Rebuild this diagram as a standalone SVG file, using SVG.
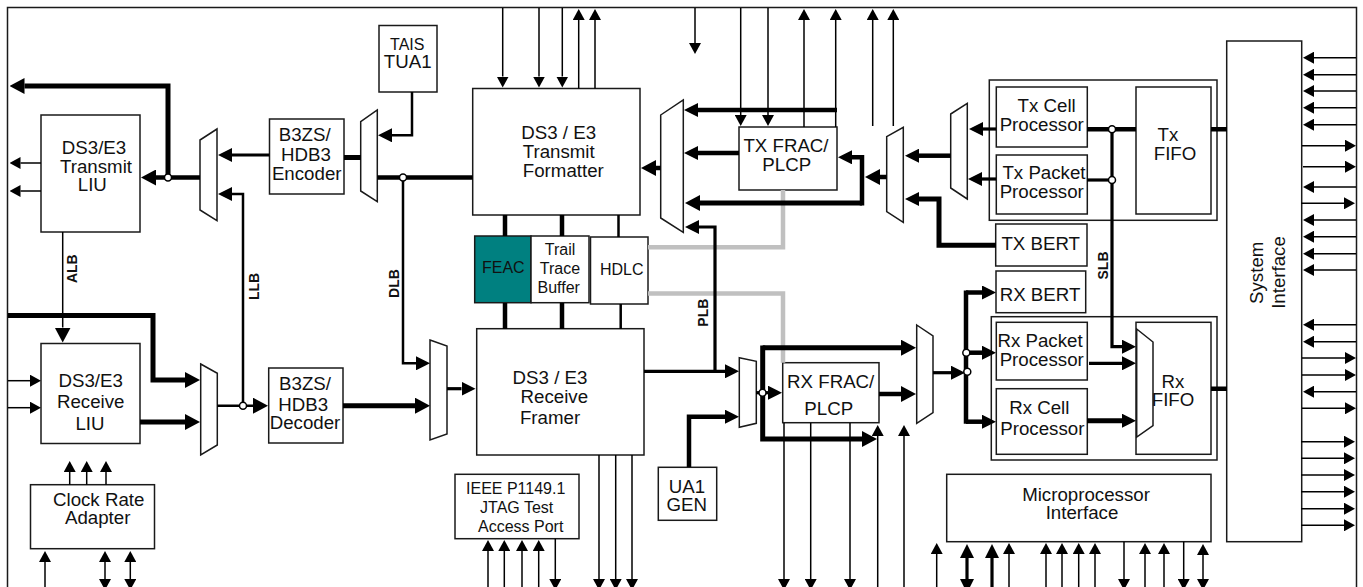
<svg xmlns="http://www.w3.org/2000/svg" width="1363" height="587" viewBox="0 0 1363 587">
<style>
text{font-family:"Liberation Sans",Arial,sans-serif;font-size:18.7px;fill:#111;text-anchor:middle}
.sm{font-size:16px}
.lb{font-size:14px;font-weight:bold}
.b{fill:#fff;stroke:#1a1a1a;stroke-width:1.5}
.n{fill:none;stroke:#1a1a1a;stroke-width:1.5}
#connectors path{fill:none;stroke:#000}
.w1{stroke-width:1.5}.w2{stroke-width:2.5}.w3{stroke-width:3.2}.w4{stroke-width:4.5}.w5{stroke-width:5}
#connectors path.g{stroke:#c0c0c0;stroke-width:4.5}
.s{marker-end:url(#hs)}.m{marker-end:url(#hm)}.l{marker-end:url(#hl)}
.ds{marker-start:url(#hs);marker-end:url(#hs)}.dm{marker-start:url(#hm);marker-end:url(#hm)}
#connectors circle{fill:#fff;stroke:#000;stroke-width:1.5}
</style>
<defs>
<marker id="hs" markerUnits="userSpaceOnUse" markerWidth="11" markerHeight="12" refX="0" refY="6" orient="auto-start-reverse"><path d="M0 0L11 6L0 12z"/></marker>
<marker id="hm" markerUnits="userSpaceOnUse" markerWidth="14" markerHeight="14" refX="0" refY="7" orient="auto-start-reverse"><path d="M0 0L14 7L0 14z"/></marker>
<marker id="hl" markerUnits="userSpaceOnUse" markerWidth="15" markerHeight="16" refX="0" refY="8" orient="auto-start-reverse"><path d="M0 0L15 8L0 16z"/></marker>
</defs>
<path id="frame" class="n" d="M7.5 587V7.5H1356.5V587"/>
<g id="tx-liu"><rect class="b" x="41" y="115" width="99" height="117"/><text x="94" y="154">DS3/E3</text><text x="96" y="172.7">Transmit</text><text x="92.3" y="191.3">LIU</text></g>
<g id="rx-liu"><rect class="b" x="41" y="343.5" width="99" height="100"/><text x="90.7" y="386.7">DS3/E3</text><text x="90.7" y="407.7">Receive</text><text x="90" y="430">LIU</text></g>
<g id="clock-rate-adapter"><rect class="b" x="30.5" y="484.7" width="124" height="64"/><text x="98.7" y="506">Clock Rate</text><text x="97.7" y="524">Adapter</text></g>
<g id="encoder"><rect class="b" x="269.5" y="119" width="74.5" height="75"/><text x="304.7" y="141.3">B3ZS/</text><text x="306" y="161.3">HDB3</text><text x="306.7" y="180">Encoder</text></g>
<g id="decoder"><rect class="b" x="268.7" y="368" width="74.3" height="75"/><text x="305" y="390">B3ZS/</text><text x="303.3" y="410.7">HDB3</text><text x="305" y="428.7">Decoder</text></g>
<g id="tais"><rect class="b" x="379" y="25.5" width="58" height="66.5"/><text class="sm" x="407.3" y="50">TAIS</text><text x="407.7" y="68.3">TUA1</text></g>
<g id="transmit-formatter"><rect class="b" x="472.7" y="88.5" width="167.3" height="126.5"/><text x="558.7" y="138.7">DS3 / E3</text><text x="558.7" y="158">Transmit</text><text x="563.3" y="177.3">Formatter</text></g>
<g id="feac"><rect x="474.7" y="236" width="56.3" height="66.7" fill="#008080" stroke="#1a1a1a" stroke-width="1.5"/><text class="sm" x="503.3" y="273.3">FEAC</text></g>
<g id="trail-trace"><rect class="b" x="531" y="236" width="58" height="66.7"/><text class="sm" x="560" y="255.3">Trail</text><text class="sm" x="560" y="274">Trace</text><text class="sm" x="558.7" y="293.3">Buffer</text></g>
<g id="hdlc"><rect class="b" x="590.5" y="237" width="57.5" height="67"/><text class="sm" x="621.7" y="275">HDLC</text></g>
<g id="receive-framer"><rect class="b" x="476.7" y="328.7" width="167.3" height="126.3"/><text x="550" y="384">DS3 / E3</text><text x="554.3" y="403.3">Receive</text><text x="550" y="424">Framer</text></g>
<g id="jtag"><rect class="b" x="455" y="474.3" width="124" height="64.4"/><text class="sm" x="515.7" y="494">IEEE P1149.1</text><text class="sm" x="516.7" y="513.3">JTAG Test</text><text class="sm" x="520.7" y="532.3">Access Port</text></g>
<g id="ua1-gen"><rect class="b" x="658.3" y="467.3" width="58.4" height="53"/><text x="687" y="493.3">UA1</text><text x="686.7" y="510.7">GEN</text></g>
<g id="tx-frac"><rect class="b" x="739" y="127" width="98" height="63"/><text x="786" y="151.7">TX FRAC/</text><text x="786.7" y="170.7">PLCP</text></g>
<g id="rx-frac"><rect class="b" x="782.7" y="362.7" width="96.3" height="60"/><text x="830.7" y="388.3">RX FRAC/</text><text x="828.7" y="415">PLCP</text></g>
<g id="tx-group"><rect class="b" x="989.3" y="80" width="227.7" height="140.3"/></g>
<g id="tx-cell"><rect class="b" x="996.3" y="87" width="91" height="60"/><text x="1046.7" y="111.7">Tx Cell</text><text x="1041.7" y="130.7">Processor</text></g>
<g id="tx-packet"><rect class="b" x="996.3" y="155" width="91" height="59"/><text x="1044" y="179.3">Tx Packet</text><text x="1041.7" y="198.3">Processor</text></g>
<g id="tx-fifo"><rect class="b" x="1136" y="87" width="75" height="127"/><text x="1168" y="141">Tx</text><text x="1175" y="160">FIFO</text></g>
<g id="tx-bert"><rect class="b" x="995.7" y="224" width="91.3" height="42"/><text x="1040.7" y="250">TX BERT</text></g>
<g id="rx-bert"><rect class="b" x="996" y="271" width="89.7" height="41.7"/><text x="1040" y="300.5">RX BERT</text></g>
<g id="rx-group"><rect class="b" x="991.3" y="316.7" width="225.7" height="143.3"/></g>
<g id="rx-packet"><rect class="b" x="996.3" y="322.3" width="91" height="57.7"/><text x="1040" y="347.3">Rx Packet</text><text x="1041.7" y="366">Processor</text></g>
<g id="rx-cell"><rect class="b" x="996.3" y="388.7" width="91" height="65.6"/><text x="1039.3" y="414">Rx Cell</text><text x="1042.3" y="435">Processor</text></g>
<g id="rx-fifo"><rect class="b" x="1136" y="322.3" width="75" height="132"/><path class="b" d="M1136.7 329L1153 342V425.7L1136.7 437z"/><text x="1173" y="387.7">Rx</text><text x="1173" y="405.7">FIFO</text></g>
<g id="system-interface"><rect class="b" x="1226.7" y="41" width="75" height="500.7"/><text transform="translate(1262.7 272.8) rotate(-90)">System</text><text transform="translate(1285 272.5) rotate(-90)">Interface</text></g>
<g id="microprocessor"><rect class="b" x="946.7" y="474.3" width="264.3" height="67.4"/><text x="1086" y="500.7">Microprocessor</text><text x="1082" y="519.3">Interface</text></g>
<g id="mux1"><path class="b" d="M200 140L217 129V220.7L200 210z"/></g>
<g id="mux2"><path class="b" d="M360.7 121.7L377.3 110V201.7L360.7 191z"/></g>
<g id="mux3"><path class="b" d="M200.7 364L217.3 373.3V445L200.7 455z"/></g>
<g id="mux4"><path class="b" d="M430 340L447 346V434L430 440z"/></g>
<g id="mux5"><path class="b" d="M660.7 115L683.3 100V232.3L660.7 218z"/></g>
<g id="mux6"><path class="b" d="M886.7 136.7L903.3 127.3V222.3L886.7 211.7z"/></g>
<g id="mux7"><path class="b" d="M950.7 114L967.3 103.3V199L950.7 188z"/></g>
<g id="mux8"><path class="b" d="M739.3 357.7L756.3 361.3V423.3L739.3 427.3z"/></g>
<g id="mux9"><path class="b" d="M916.7 325L933 336V412.7L916.7 423.3z"/></g>
<g id="connectors">
<path class="g" d="M648 247.3H783V190"/>
<path class="g" d="M648 293.5H783V362.7"/>
<path class="w5 l" d="M168 177.5V86H24.5"/>
<path class="w4 l" d="M200 177.5H156"/>
<path class="w1 s" d="M41 163H20.5"/>
<path class="w1 s" d="M41 191H20.5"/>
<path class="w3 m" d="M269.5 155H232"/>
<path class="w2 m" d="M243 405.7V194H232"/>
<path class="w5" d="M344 157.5H361"/>
<path class="w2 m" d="M412 92V135.3H392"/>
<path class="w4" d="M377.3 177.5H472.7"/>
<path class="w2 m" d="M403 177.5V363.3H416"/>
<path class="w1 l" d="M62.7 232V327.5"/>
<path class="w5 l" d="M8 315.5H153V380H185"/>
<path class="w1 s" d="M8 380.7H30"/>
<path class="w1 s" d="M8 407.7H30"/>
<path class="w5 l" d="M140 422H185"/>
<path class="w2 l" d="M217.3 405.7H253"/>
<path class="w5 l" d="M343 405.7H415"/>
<path class="w3 m" d="M447 388.7H461.5"/>
<path class="w1 s" d="M69.7 484.7V472"/><path class="w1 s" d="M86.7 484.7V472"/><path class="w1 s" d="M106 484.7V472"/>
<path class="w1 s" d="M45 587V562"/>
<path class="w1 ds" d="M105 562V579"/>
<path class="w1 ds" d="M130.3 562V579"/>
<path class="w1 s" d="M502.7 8V76.5"/><path class="w1 s" d="M539 8V76.5"/><path class="w1 s" d="M562.3 8V76.5"/>
<path class="w1 s" d="M578.7 88.5V20"/><path class="w1 s" d="M595 88.5V20"/>
<path class="w1 s" d="M695 8V43"/>
<path class="w1 s" d="M740.7 8V115"/><path class="w1 s" d="M768 8V115"/>
<path class="w1 s" d="M804 127V20"/><path class="w1 s" d="M835.7 127V20"/>
<path class="w1 s" d="M872.7 126V20"/><path class="w1 s" d="M893.3 126V20"/>
<path class="w4 m" d="M837 110H698"/>
<path class="w4 m" d="M739 153H698"/>
<path class="w5 l" d="M862 203H700"/>
<path class="w4 m" d="M862 205.5V157.3H852"/>
<path class="w4 l" d="M886.7 177H880"/>
<path class="w3 m" d="M715 371.3V227H699"/>
<path class="w4 l" d="M660.7 168H656"/>
<path class="w4" d="M505 215V236M562 215V236M505 303V329M562 303V329"/>
<path class="w2" d="M618.5 215V237M620.7 304V329"/>
<path class="w3 m" d="M644 371.3H725"/>
<path class="w4 m" d="M689 467V416.7H725"/>
<path class="w3 m" d="M756 392.7H768"/>
<path class="w5 l" d="M762.7 347.7H901"/>
<path class="w5 l" d="M762.7 345.5V439H862"/>
<path class="w4 l" d="M879 394H901"/>
<path class="w1 s" d="M784 423V579"/><path class="w1 s" d="M810.7 423V579"/><path class="w1 s" d="M850 423V579"/>
<path class="w1 s" d="M877.7 587V436"/><path class="w1 s" d="M904 587V436"/>
<path class="w1 s" d="M599 455V579"/><path class="w1 s" d="M615.7 455V579"/><path class="w1 s" d="M632 455V579"/>
<path class="w1 s" d="M488 587V551"/><path class="w1 s" d="M504.3 587V551"/><path class="w1 s" d="M522 587V551"/><path class="w1 s" d="M538.7 587V551"/>
<path class="w1 s" d="M555.3 538.7V579"/>
<path class="w3 m" d="M933 372.7H951"/>
<path class="w4" d="M966 290.5V423.7"/>
<path class="w4 m" d="M966 292.5H982"/>
<path class="w4 m" d="M966 352.7H982"/>
<path class="w4 m" d="M966 421.7H982"/>
<path class="w3 m" d="M1089 363.3H1122"/>
<path class="w5 m" d="M1087 420.7H1122"/>
<path class="w3 m" d="M1112 129V346.7H1122"/>
<path class="w4" d="M1087 129.3H1136"/>
<path class="w3" d="M1087 180H1112"/>
<path class="w3 m" d="M996 129H983"/>
<path class="w3 m" d="M996 179H982"/>
<path class="w4 m" d="M950.7 155.7H919"/>
<path class="w5 m" d="M996 245.3H939V199H919"/>
<path class="w4" d="M1211 129.3H1227M1211 388.7H1227"/>
<path class="w1 s" d="M1356 57.7H1314"/><path class="w1 s" d="M1356 74.7H1314"/><path class="w1 s" d="M1356 91H1314"/><path class="w1 s" d="M1356 107.7H1314"/><path class="w1 s" d="M1356 124.7H1314"/><path class="w1 s" d="M1356 187H1314"/><path class="w1 s" d="M1356 220H1314"/><path class="w1 s" d="M1356 236.7H1314"/><path class="w1 s" d="M1356 253.7H1314"/><path class="w1 s" d="M1356 270H1314"/><path class="w1 s" d="M1356 324.7H1314"/><path class="w1 s" d="M1356 341.7H1314"/><path class="w1 s" d="M1356 391.7H1314"/>
<path class="w1 s" d="M1302 145.7H1345"/><path class="w1 s" d="M1303 166.7H1345"/><path class="w1 s" d="M1301 203.3H1344"/><path class="w1 s" d="M1302 358H1345"/><path class="w1 s" d="M1302 375H1345"/><path class="w1 s" d="M1302 408.3H1345"/><path class="w1 s" d="M1301 441.7H1344"/><path class="w1 s" d="M1301 458.3H1344"/><path class="w1 s" d="M1301 475H1344"/><path class="w1 s" d="M1301 491.7H1344"/><path class="w1 s" d="M1301 508.7H1344"/><path class="w1 s" d="M1301 525.3H1344"/>
<path class="w1 s" d="M936.7 587V554"/>
<path class="w3 dm" d="M967 558V579"/>
<path class="w3 m" d="M992 587V558"/>
<path class="w1 s" d="M1009 587V554"/><path class="w1 s" d="M1046 587V554"/><path class="w1 s" d="M1062 587V554"/><path class="w1 s" d="M1078.7 587V554"/><path class="w1 s" d="M1095 587V554"/><path class="w1 s" d="M1145 587V554"/><path class="w1 s" d="M1164 587V554"/>
<path class="w1 s" d="M1124 541.7V579"/><path class="w1 s" d="M1183.7 541.7V579"/>
<path class="w1 ds" d="M1203 555V579"/>
<circle cx="168" cy="177.5" r="3.5"/><circle cx="403" cy="177.5" r="3.5"/><circle cx="243" cy="405.7" r="3.5"/><circle cx="762.5" cy="392.7" r="3.5"/><circle cx="966.3" cy="352.7" r="3.5"/><circle cx="967.3" cy="371.7" r="3.5"/><circle cx="1112" cy="129.3" r="3.5"/><circle cx="1112" cy="180" r="3.5"/>
</g>
<g id="labels">
<text class="lb" transform="translate(77.3 268.7) rotate(-90)">ALB</text>
<text class="lb" transform="translate(259 286.5) rotate(-90)">LLB</text>
<text class="lb" transform="translate(399 283.5) rotate(-90)">DLB</text>
<text class="lb" transform="translate(708.3 312.7) rotate(-90)">PLB</text>
<text class="lb" transform="translate(1107.7 265.5) rotate(-90)">SLB</text>
</g>
</svg>
